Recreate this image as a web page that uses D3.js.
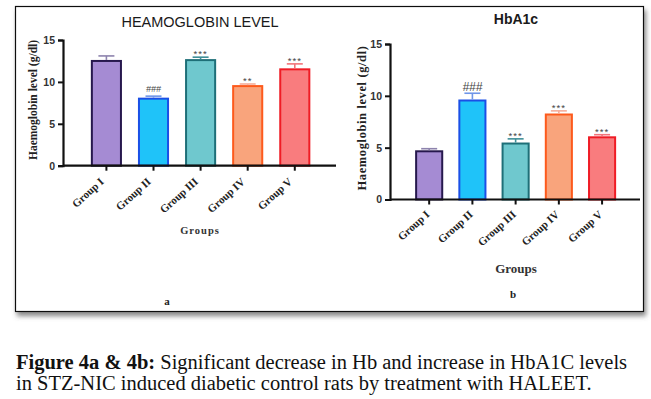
<!DOCTYPE html>
<html>
<head>
<meta charset="utf-8">
<script src="https://cdn.jsdelivr.net/npm/d3@7"></script>
<style>
  body { margin: 0; background: #fff; }
</style>
</head>
<body>
<script>
const W = 651, H = 399;

// data
const groups = ["Group I", "Group II", "Group III", "Group IV", "Group V"];
const hbMean = [12.5, 8.0, 12.6, 9.5, 11.5];
const hbErr = [0.6, 0.3, 0.35, 0.25, 0.65];
const hbSig = ["", "###", "***", "**", "***"];
const a1cMean = [4.65, 9.55, 5.4, 8.2, 6.0];
const a1cErr = [0.25, 0.7, 0.45, 0.35, 0.25];
const a1cSig = ["", "###", "***", "***", "***"];
const yTicks = [0, 5, 10, 15];

const fills = ["#a58bd3", "#1fc3f9", "#6fc8ce", "#f9a47c", "#f97c7e"];
const strokes = ["#26184d", "#1b4fe6", "#1e6f78", "#fd5a1c", "#ef1c25"];
const errColors = ["#8d83ad", "#6f95e8", "#3f8f98", "#f5ad9a", "#f2747a"];

const SERIF = "'Liberation Serif', 'Times New Roman', serif";
const SANS = "'Liberation Sans', Arial, sans-serif";

const svg = d3.select("body").append("svg")
  .attr("width", W)
  .attr("height", H);

const defs = svg.append("defs");
const shadow = defs.append("filter").attr("id", "shadow")
  .attr("x", "-5%").attr("y", "-5%").attr("width", "110%").attr("height", "115%");
shadow.append("feDropShadow")
  .attr("dx", 2).attr("dy", 4).attr("stdDeviation", 2.5)
  .attr("flood-color", "#555").attr("flood-opacity", 0.7);

// frame
svg.append("rect")
  .attr("x", 15.5).attr("y", 6.5)
  .attr("width", 628).attr("height", 305)
  .attr("fill", "#fff")
  .attr("stroke", "#111")
  .attr("stroke-width", 1.2)
  .attr("filter", "url(#shadow)");

function drawPanel(cfg) {
  const g = svg.append("g");
  const x = d3.scaleBand().domain(groups).range(cfg.xRange).padding(cfg.pad);
  const y = d3.scaleLinear().domain([0, 15]).range(cfg.yRange);

  // title
  g.append("text")
    .attr("x", cfg.titleX).attr("y", cfg.titleY)
    .attr("text-anchor", "middle")
    .attr("font-family", SANS)
    .attr("font-size", cfg.titleSize)
    .attr("font-weight", cfg.titleWeight)
    .attr("fill", "#1a1a1a")
    .text(cfg.title);

  // bars
  g.selectAll(".bar").data(cfg.mean).join("rect")
    .attr("x", (d, i) => x(groups[i]) + 1)
    .attr("y", d => y(d))
    .attr("width", x.bandwidth() - 2)
    .attr("height", d => y(0) - y(d))
    .attr("fill", (d, i) => fills[i])
    .attr("stroke", (d, i) => strokes[i])
    .attr("stroke-width", 2);

  // error bars
  const cx = i => x(groups[i]) + x.bandwidth() / 2;
  g.selectAll(".err").data(cfg.mean).join("line")
    .attr("x1", (d, i) => cx(i)).attr("x2", (d, i) => cx(i))
    .attr("y1", d => y(d) - 1)
    .attr("y2", (d, i) => y(d + cfg.err[i]))
    .attr("stroke", (d, i) => errColors[i])
    .attr("stroke-width", 1.6);
  g.selectAll(".cap").data(cfg.mean).join("line")
    .attr("x1", (d, i) => cx(i) - cfg.cap).attr("x2", (d, i) => cx(i) + cfg.cap)
    .attr("y1", (d, i) => y(d + cfg.err[i]))
    .attr("y2", (d, i) => y(d + cfg.err[i]))
    .attr("stroke", (d, i) => errColors[i])
    .attr("stroke-width", 1.6);

  // significance marks
  g.selectAll(".sig").data(cfg.sig).join("text")
    .attr("x", (d, i) => cx(i))
    .attr("y", (d, i) => y(cfg.mean[i] + cfg.err[i]) - (d === "###" ? cfg.hashGap : 0))
    .attr("text-anchor", "middle")
    .attr("font-family", SANS)
    .attr("font-size", d => d === "###" ? cfg.hashSize : 9.5)
    .attr("font-style", d => d === "###" ? "italic" : "normal")
    .attr("letter-spacing", d => d === "###" ? 0 : 1)
    .attr("fill", "#444")
    .text(d => d);

  // y axis
  const yAxis = g.append("g")
    .attr("transform", `translate(${cfg.xAxisStart},0)`)
    .call(d3.axisLeft(y).tickValues(yTicks).tickSize(5).tickPadding(3));
  yAxis.select(".domain").attr("stroke", "#111").attr("stroke-width", 2.2);
  yAxis.selectAll(".tick line").attr("stroke", "#111").attr("stroke-width", 2);
  yAxis.selectAll(".tick text")
    .attr("font-family", SANS)
    .attr("font-size", 10.5)
    .attr("font-weight", "bold")
    .attr("fill", "#333");

  // x axis
  const xAxis = g.append("g")
    .attr("transform", `translate(0,${y(0)})`)
    .call(d3.axisBottom(x).tickSize(5).tickSizeOuter(0));
  xAxis.select(".domain")
    .attr("d", `M${cfg.xAxisStart},0H${cfg.xAxisEnd}`)
    .attr("stroke", "#111").attr("stroke-width", 2.2);
  xAxis.selectAll(".tick line").attr("stroke", "#111").attr("stroke-width", 2);
  xAxis.selectAll(".tick text")
    .attr("font-family", SERIF)
    .attr("font-size", 11)
    .attr("font-weight", "bold")
    .attr("fill", "#222")
    .attr("text-anchor", "end")
    .attr("dy", null)
    .attr("y", null)
    .attr("transform", `translate(${cfg.lblDx},${cfg.lblDy}) rotate(-42)`);

  // y label
  g.append("text")
    .attr("transform", `translate(${cfg.yLblX},${cfg.yLblY}) rotate(-90)`)
    .attr("text-anchor", "middle")
    .attr("font-family", SERIF)
    .attr("font-size", cfg.yLblSize)
    .attr("font-weight", "bold")
    .attr("letter-spacing", cfg.yLblSpacing)
    .attr("fill", "#222")
    .text("Haemoglobin level (g/dl)");

  // x label
  g.append("text")
    .attr("x", cfg.titleX).attr("y", cfg.xLblY)
    .attr("text-anchor", "middle")
    .attr("font-family", SERIF)
    .attr("font-size", cfg.xLblSize)
    .attr("font-weight", "bold")
    .attr("letter-spacing", cfg.xLblSpacing)
    .attr("fill", "#333")
    .text("Groups");

  // panel letter
  g.append("text")
    .attr("x", cfg.letterX).attr("y", cfg.letterY)
    .attr("text-anchor", "middle")
    .attr("font-family", SERIF)
    .attr("font-size", 11)
    .attr("font-weight", "bold")
    .attr("fill", "#222")
    .text(cfg.letter);
}

drawPanel({
  mean: hbMean, err: hbErr, sig: hbSig,
  xRange: [74.85, 326.35], pad: 0.34, yRange: [165.7, 40],
  xAxisStart: 63, xAxisEnd: 336, cap: 8, hashGap: 4, hashSize: 9,
  title: "HEAMOGLOBIN LEVEL", titleX: 200, titleY: 27, titleSize: 14.5, titleWeight: "normal",
  lblDx: -2, lblDy: 17,
  yLblX: 37, yLblY: 100, yLblSize: 11.5, yLblSpacing: 0,
  xLblY: 234, xLblSize: 10.5, xLblSpacing: 1,
  letter: "a", letterX: 167, letterY: 305
});

drawPanel({
  mean: a1cMean, err: a1cErr, sig: a1cSig,
  xRange: [400, 631.25], pad: 0.35, yRange: [199.5, 44],
  xAxisStart: 390, xAxisEnd: 640, cap: 8, hashGap: 2, hashSize: 12,
  title: "HbA1c", titleX: 516, titleY: 24, titleSize: 14, titleWeight: "bold",
  lblDx: 1, lblDy: 16,
  yLblX: 366, yLblY: 118, yLblSize: 12.5, yLblSpacing: 0.6,
  xLblY: 273, xLblSize: 13, xLblSpacing: 0,
  letter: "b", letterX: 513, letterY: 298
});

// caption
const cap = svg.append("text")
  .attr("font-family", SERIF)
  .attr("font-size", 20.5)
  .attr("fill", "#111");
const l1 = cap.append("tspan").attr("x", 16).attr("y", 369);
l1.append("tspan").attr("font-weight", "bold").text("Figure 4a & 4b:");
l1.append("tspan").text(" Significant decrease in Hb and increase in HbA1C levels");
cap.append("tspan").attr("x", 16).attr("y", 390)
  .text("in STZ-NIC induced diabetic control rats by treatment with HALEET.");
</script>
</body>
</html>
